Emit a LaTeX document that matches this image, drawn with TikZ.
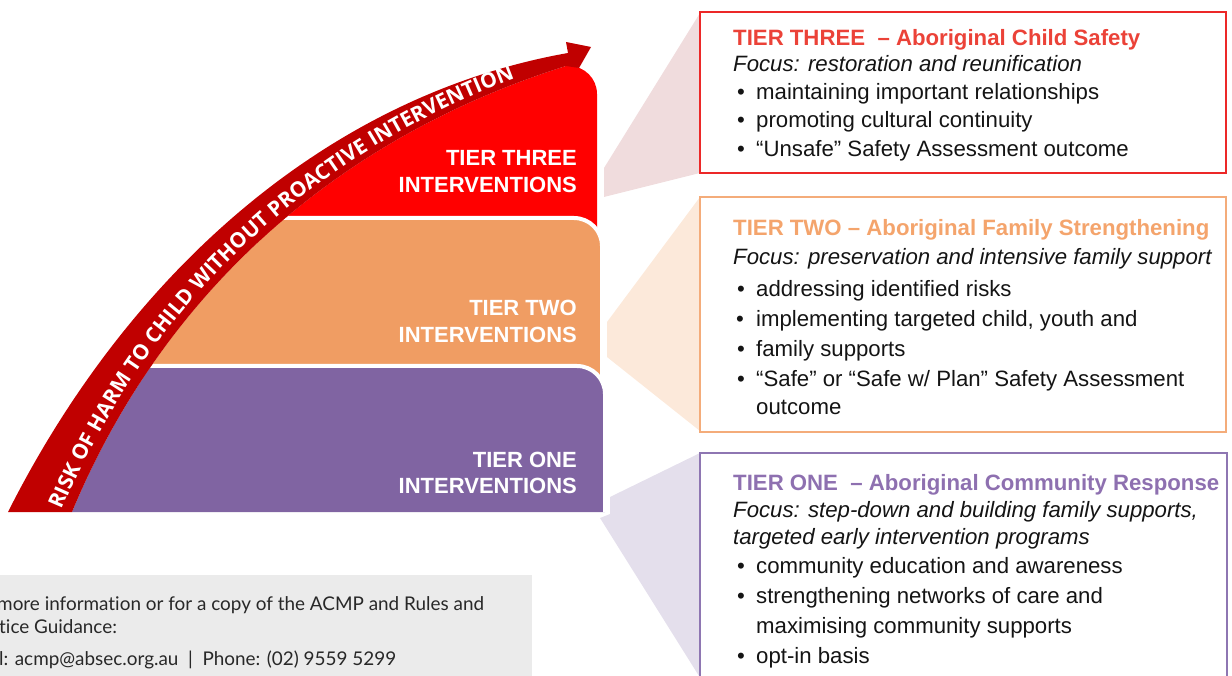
\documentclass[tikz,border=0pt]{standalone}
\usepackage{fontspec}
\setmainfont{Liberation Sans}
\newfontfamily\bandfont{Open Sans}
\newfontfamily\infofont{Lato}[Ligatures=NoCommon]
\usetikzlibrary{decorations.text}
\definecolor{bandred}{RGB}{192,0,0}
\definecolor{tthree}{RGB}{255,0,0}
\definecolor{ttwo}{RGB}{240,157,99}
\definecolor{tone}{RGB}{128,100,162}
\definecolor{wthree}{RGB}{240,220,221}
\definecolor{wtwo}{RGB}{252,233,218}
\definecolor{wone}{RGB}{228,223,236}
\definecolor{bthree}{RGB}{236,40,40}
\definecolor{btwo}{RGB}{244,172,122}
\definecolor{bone}{RGB}{142,118,178}
\definecolor{hthree}{RGB}{235,66,56}
\definecolor{htwo}{RGB}{244,164,108}
\definecolor{hone}{RGB}{142,112,176}
\definecolor{infobg}{RGB}{235,235,235}
\definecolor{infotext}{RGB}{40,40,40}
\definecolor{bodytext}{RGB}{20,20,20}
\tikzset{
  boxtitle/.style={anchor=base west, font=\fontsize{22.2}{22.2}\selectfont\bfseries, inner sep=0},
  focusline/.style={anchor=base west, font=\fontsize{22.2}{22.2}\selectfont\itshape, inner sep=0, text=bodytext},
  bulletline/.style={anchor=base west, font=\fontsize{22.2}{22.2}\selectfont, inner sep=0, text=bodytext},
  bulletdot/.style={anchor=base, font=\fontsize{22.2}{22.2}\selectfont, inner sep=0, text=bodytext},
  tierlabel/.style={anchor=base east, font=\fontsize{22}{22}\selectfont\bfseries, text=white, inner sep=0},
  infoline/.style={anchor=base west, font=\infofont\fontsize{18.9}{18.9}\selectfont, text=infotext, inner sep=0},
  tierbox/.style={line width=1.5pt},
  tiershape/.style={draw=white, line width=4pt},
}
\begin{document}
\begin{tikzpicture}[x=1pt,y=1pt]
\useasboundingbox (0,0) rectangle (1232,-676);
% callout wedges
\fill[wthree] (700,-13) -- (604,-168) -- (604,-197) -- (700,-173) -- cycle;
\fill[wtwo] (700,-197) -- (607,-322) -- (607,-357) -- (700,-431) -- cycle;
\fill[wone] (700,-453) -- (610,-497) -- (610,-514) -- (600,-518) -- (699,-676) -- (700,-676) -- cycle;
% tier shapes
\begin{scope}
\clip (72,-512) .. controls (160,-300) and (330,-140) .. (566,-66) -- (566,-20) -- (660,-20) -- (660,-512) -- cycle;
\fill[tthree] (0,-240) -- (0,-66) -- (569,-66) arc[start angle=90, end angle=0, radius=28] -- (597,-240) -- cycle;
\filldraw[ttwo, tiershape] (0,-380) -- (0,-218) -- (574,-218) arc[start angle=90, end angle=0, radius=28] -- (602,-380) -- cycle;
\filldraw[tone, tiershape] (0,-520) -- (0,-366) -- (577,-366) arc[start angle=90, end angle=0, radius=28] -- (605,-520) -- cycle;
\end{scope}
% risk arrow band
\fill[bandred] (8,-512) .. controls (130,-270) and (330,-95) .. (568,-53) -- (566,-42) -- (591,-47) -- (579,-68) -- (566,-66) .. controls (330,-140) and (160,-300) .. (72,-512) -- cycle;
\path[decorate, decoration={text along path, text color=white,
  text={|\bandfont\bfseries\fontsize{21}{21}\selectfont|RISK OF HARM TO CHILD WITHOUT PROACTIVE INTERVENTION}}]
  (62,-510) .. controls (152,-297) and (327,-134) .. (566,-61);
% tier labels
\node[tierlabel] (l3a) at (577,-166) {TIER THREE};
\node[tierlabel] (l3b) at (577,-193) {INTERVENTIONS};
\node[tierlabel] (l2a) at (577,-316) {TIER TWO};
\node[tierlabel] (l2b) at (577,-343) {INTERVENTIONS};
\node[tierlabel] (l1a) at (577,-467) {TIER ONE};
\node[tierlabel] (l1b) at (577,-493) {INTERVENTIONS};
% boxes
\draw[tierbox, bthree] (700,-12) rectangle (1226,-173);
\draw[tierbox, btwo] (700,-197) rectangle (1226,-432);
\draw[tierbox, bone] (700,-453) rectangle (1227,-700);
% box three text
\node[boxtitle, text=hthree] (t3) at (733,-46) {TIER THREE~ – Aboriginal Child Safety};
\node[focusline] (f3) at (733,-72) {Focus: restoration and reunification};
\node[bulletdot] (d31) at (741,-100) {•};
\node[bulletline] (b31) at (756,-100) {maintaining important relationships};
\node[bulletdot] (d32) at (741,-128) {•};
\node[bulletline] (b32) at (756,-128) {promoting cultural continuity};
\node[bulletdot] (d33) at (741,-157) {•};
\node[bulletline] (b33) at (756,-157) {“Unsafe” Safety Assessment outcome};
% box two text
\node[boxtitle, text=htwo] (t2) at (733,-236) {TIER TWO – Aboriginal Family Strengthening};
\node[focusline] (f2) at (733,-265) {Focus: preservation and intensive family support};
\node[bulletdot] (d21) at (741,-297) {•};
\node[bulletline] (b21) at (756,-297) {addressing identified risks};
\node[bulletdot] (d22) at (740,-327) {•};
\node[bulletline] (b22) at (756,-327) {implementing targeted child, youth and};
\node[bulletdot] (d23) at (741,-357) {•};
\node[bulletline] (b23) at (756,-357) {family supports};
\node[bulletdot] (d24) at (741,-387) {•};
\node[bulletline] (b24) at (756,-387) {“Safe” or “Safe w/ Plan” Safety Assessment};
\node[bulletline] (b25) at (756,-414) {outcome};
% box one text
\node[boxtitle, text=hone] (t1) at (733,-490) {TIER ONE~ – Aboriginal Community Response};
\node[focusline] (f1a) at (733,-517) {Focus: step-down and building family supports,};
\node[focusline] (f1b) at (733,-544) {targeted early intervention programs};
\node[bulletdot] (d11) at (741,-573) {•};
\node[bulletline] (b11) at (756,-573) {community education and awareness};
\node[bulletdot] (d12) at (741,-603) {•};
\node[bulletline] (b12) at (756,-603) {strengthening networks of care and};
\node[bulletline] (b13) at (756,-633) {maximising community supports};
\node[bulletdot] (d14) at (741,-663) {•};
\node[bulletline] (b14) at (756,-663) {opt-in basis};
% info box
\fill[infobg] (0,-575) rectangle (532,-676);
\node[infoline] (i1) at (-3,-610) {more information or for a copy of the ACMP and Rules and};
\node[infoline] (i2) at (-1,-633) {tice Guidance:};
\node[infoline] (i3) at (-1,-665) {l: acmp@absec.org.au~ |~ Phone: (02) 9559 5299};
\end{tikzpicture}
\end{document}
